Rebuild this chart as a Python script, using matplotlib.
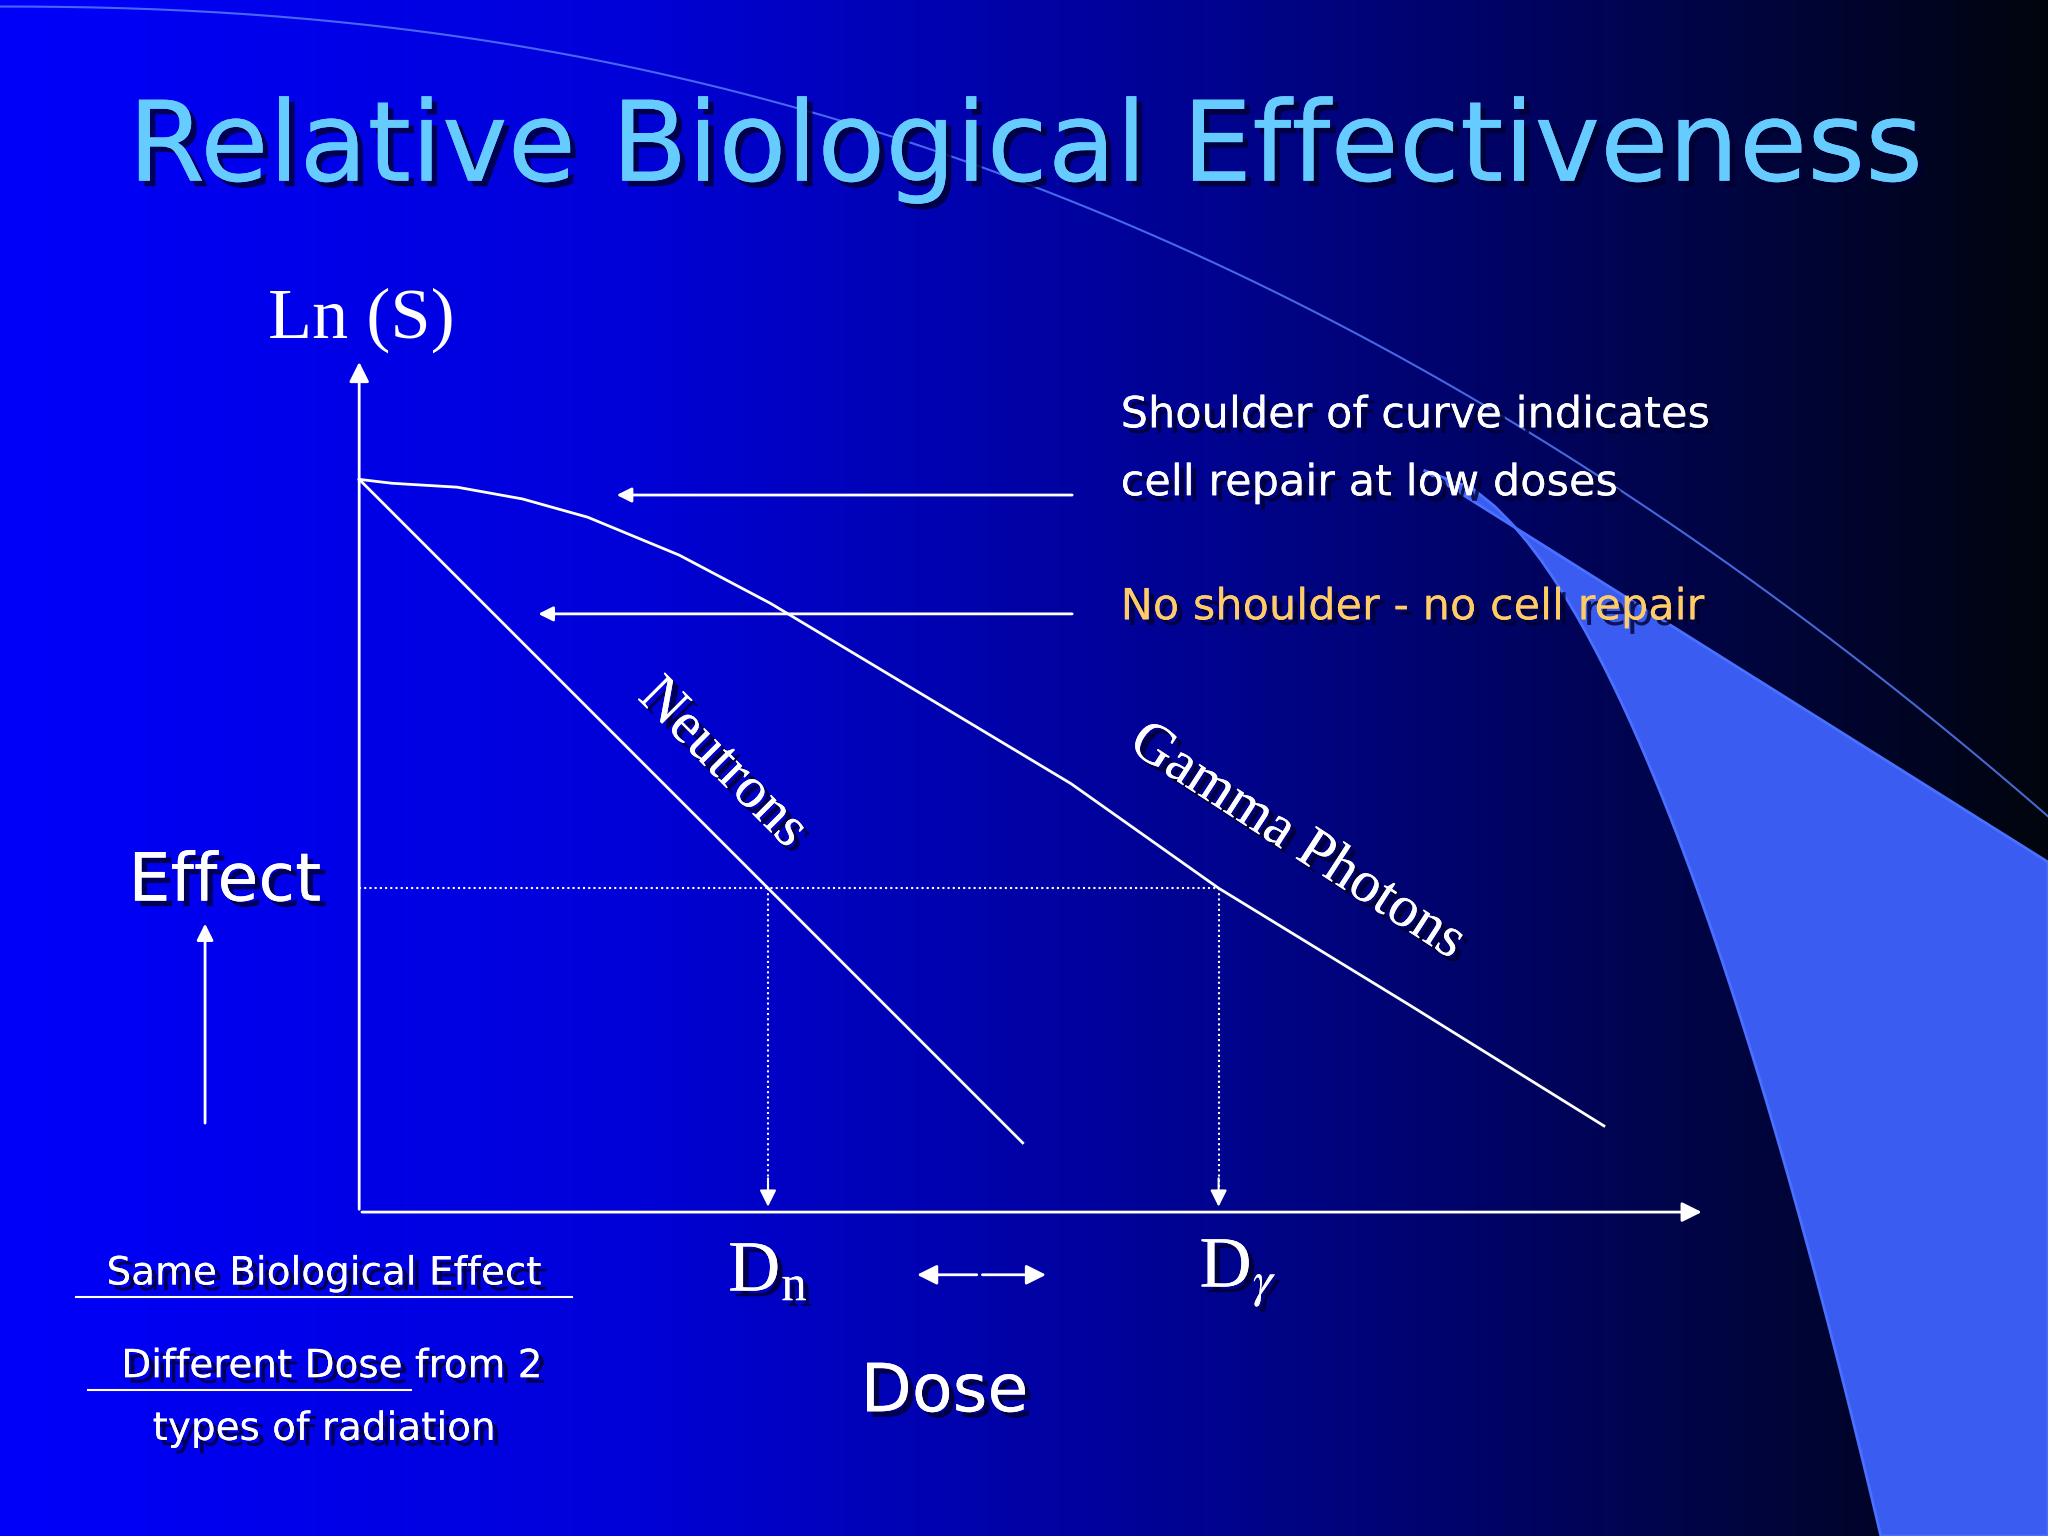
import matplotlib
matplotlib.use("Agg")
import matplotlib.pyplot as plt
import matplotlib.patheffects as pe
import numpy as np
from matplotlib.patches import Polygon, FancyArrowPatch

plt.rcParams["mathtext.fontset"] = "stix"

# curves in slide coordinates (x = dose, y = screen row, larger = lower survival)
gamma_x = [275, 300, 350, 400, 450, 520, 590, 700, 820, 933, 1080, 1228]
gamma_y = [367, 370, 373, 382, 396, 425, 462, 528, 600, 680, 770, 862]
neutron_x = [275, 783]
neutron_y = [367, 875]
effect_y = 680
dose_n = 588
dose_g = 933

fig = plt.figure(figsize=(20.48, 15.36), dpi=100)
ax = fig.add_axes([0, 0, 1, 1])
ax.set_xlim(0, 1568)
ax.set_ylim(1176, 0)
ax.axis("off")

# background gradient: bright blue left to near black right
t = np.linspace(0, 1, 400)
r = np.zeros_like(t)
g = np.interp(t, [0, 1], [0.0, 0.02])
b = np.interp(t, [0, 0.3, 0.6, 0.85, 1], [0.98, 0.85, 0.55, 0.25, 0.05])
grad = np.dstack([r, g, b]).repeat(2, axis=0)
ax.imshow(grad, extent=[0, 1568, 1176, 0], aspect="auto", zorder=0)
ax.set_xlim(0, 1568)
ax.set_ylim(1176, 0)

# swoosh
yy = np.linspace(360, 1176, 60)
left_x = 1090 + 350 * ((yy - 360) / 816) ** 0.55
pts = [(1090, 360), (1568, 660), (1568, 1176)] + [(lx, y) for lx, y in zip(left_x[::-1], yy[::-1])]
ax.add_patch(Polygon(pts, closed=True, fc="#3a5cf0", ec="#4a70ff", lw=2, zorder=1))
sx = np.linspace(0, 1568, 200)
sy = 5 + 620 * (sx / 1568) ** 2.2
ax.plot(sx, sy, color="#5a80ff", lw=1.5, alpha=0.8, zorder=1)

sh = [pe.withSimplePatchShadow(offset=(4, -4), shadow_rgbFace="#000030", alpha=0.8), pe.Normal()]

ax.text(785, 115, "Relative Biological Effectiveness", color="#66ccff", fontsize=80,
        ha="center", va="center", path_effects=sh, zorder=5)

# axes
ax.add_patch(FancyArrowPatch((275, 928), (275, 275), arrowstyle="-|>", mutation_scale=30, color="white", lw=2, zorder=3))
ax.add_patch(FancyArrowPatch((275, 928), (1305, 928), arrowstyle="-|>", mutation_scale=30, color="white", lw=2, zorder=3))

ax.plot(gamma_x, gamma_y, color="white", lw=2, zorder=3)
ax.plot(neutron_x, neutron_y, color="white", lw=2, zorder=3)
ax.plot([275, dose_g], [effect_y, effect_y], color="white", lw=1.5, ls=(0, (1, 1.5)), zorder=3)
for d in (dose_n, dose_g):
    ax.plot([d, d], [effect_y, 915], color="white", lw=1.5, ls=(0, (1, 1.5)), zorder=3)
    ax.add_patch(FancyArrowPatch((d, 900), (d, 926), arrowstyle="-|>", mutation_scale=25, color="white", lw=1.5, zorder=3))

# annotation arrows
ax.add_patch(FancyArrowPatch((823, 379), (470, 379), arrowstyle="-|>", mutation_scale=22, color="white", lw=2, zorder=3))
ax.add_patch(FancyArrowPatch((823, 470), (410, 470), arrowstyle="-|>", mutation_scale=22, color="white", lw=2, zorder=3))
ax.add_patch(FancyArrowPatch((157, 862), (157, 705), arrowstyle="-|>", mutation_scale=25, color="white", lw=2, zorder=3))
ax.add_patch(FancyArrowPatch((750, 976), (700, 976), arrowstyle="-|>", mutation_scale=30, color="white", lw=2, zorder=3))
ax.add_patch(FancyArrowPatch((750, 976), (803, 976), arrowstyle="-|>", mutation_scale=30, color="white", lw=2, zorder=3))

serif = "Liberation Serif"
ax.text(277, 245, "Ln (S)", color="white", fontsize=52, family=serif, ha="center", va="center", zorder=5)
ax.text(858, 318, "Shoulder of curve indicates", color="white", fontsize=31, ha="left", va="center", path_effects=sh, zorder=5)
ax.text(858, 370, "cell repair at low doses", color="white", fontsize=31, ha="left", va="center", path_effects=sh, zorder=5)
ax.text(858, 465, "No shoulder - no cell repair", color="#ffcc66", fontsize=31, ha="left", va="center", path_effects=sh, zorder=5)
ax.text(553, 585, "Neutrons", color="white", fontsize=42, family=serif, rotation=-45, ha="center", va="center", path_effects=sh, zorder=5)
ax.text(993, 645, "Gamma Photons", color="white", fontsize=42, family=serif, rotation=-33, ha="center", va="center", path_effects=sh, zorder=5)
ax.text(172, 675, "Effect", color="white", fontsize=48, ha="center", va="center", path_effects=sh, zorder=5)
ax.text(588, 975, r"D$_\mathregular{n}$", color="white", fontsize=52, family=serif, ha="center", va="center", path_effects=sh, zorder=5)
ax.text(948, 975, r"D$_\gamma$", color="white", fontsize=52, family=serif, ha="center", va="center", path_effects=sh, zorder=5)
ax.text(723, 1066, "Dose", color="white", fontsize=48, ha="center", va="center", path_effects=sh, zorder=5)

ax.text(248, 975, "Same Biological Effect", color="white", fontsize=28, ha="center", va="center", path_effects=sh, zorder=5)
ax.plot([58, 438], [993, 993], color="white", lw=1.5, zorder=5)
ax.text(254, 1046, "Different Dose from 2", color="white", fontsize=28, ha="center", va="center", path_effects=sh, zorder=5)
ax.plot([67, 315], [1064, 1064], color="white", lw=1.5, zorder=5)
ax.text(248, 1094, "types of radiation", color="white", fontsize=28, ha="center", va="center", path_effects=sh, zorder=5)

fig.savefig("out.png", dpi=100)
